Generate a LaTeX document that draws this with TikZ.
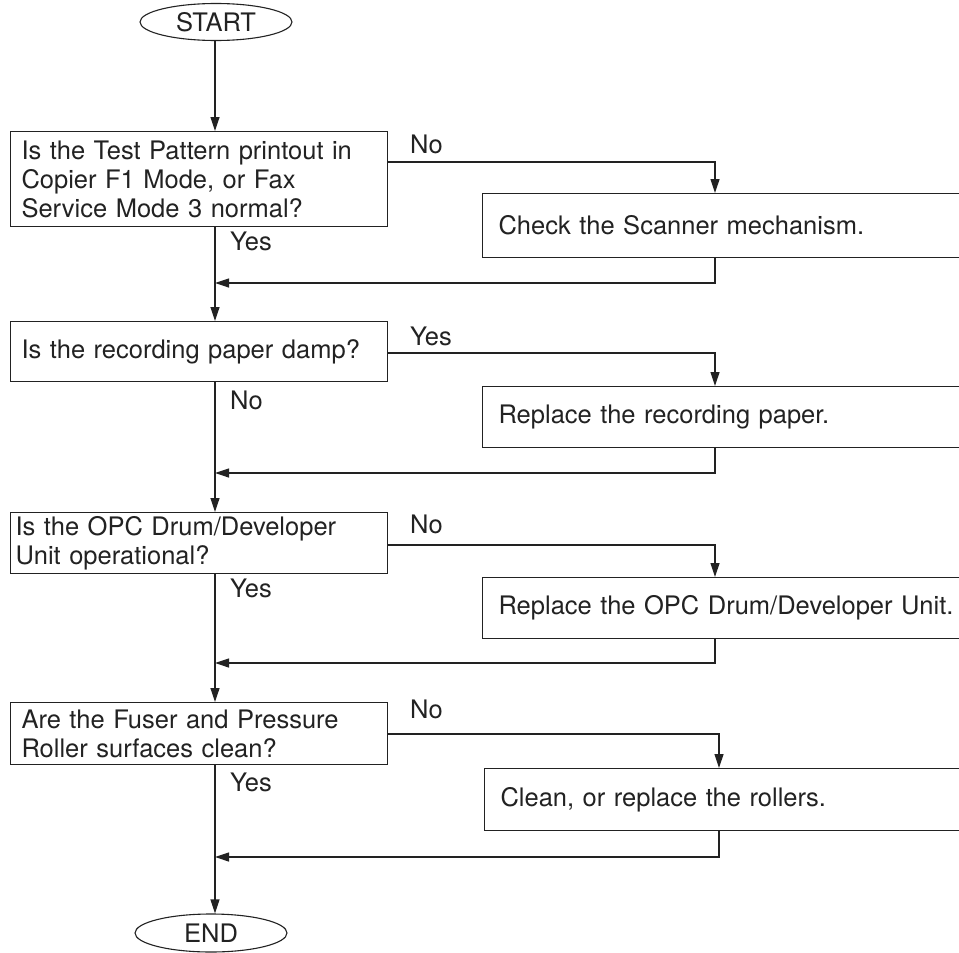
\documentclass[tikz,border=0pt]{standalone}
\usepackage{fontspec}
\setmainfont{TeX Gyre Heros}
\usetikzlibrary{arrows.meta,shapes.geometric}
\definecolor{ink}{HTML}{222222}
\begin{document}
\begin{tikzpicture}[x=1pt,y=-1pt,
  every node/.style={text=ink,font=\fontsize{25.5}{29}\selectfont},
  line/.style={draw=ink,line width=1.2pt},
  arr/.style={line,-{Triangle[length=14pt,width=9pt]}},
  term/.style={ellipse,draw=ink,line width=1.1pt,inner sep=0pt,minimum width=152pt,minimum height=37pt},
  qbox/.style={draw=ink,line width=1.1pt,rectangle,anchor=north west,minimum width=377pt,inner xsep=11pt,inner ysep=0pt,align=left,text width=355pt},
  abox/.style={draw=ink,line width=1.1pt,rectangle,anchor=north west,minimum width=520pt,inner xsep=16pt,inner ysep=0pt,align=left,text width=488pt},
  lbl/.style={anchor=base west,inner sep=0pt}]
\useasboundingbox (0,0) rectangle (959,953);
\fill[white] (0,0) rectangle (959,953);
% main column and exits
\coordinate (m) at (215,0);
\coordinate (ex1) at (715,0);
\coordinate (ex2) at (715,0);
\coordinate (ex3) at (715,0);
\coordinate (ex4) at (719,0);
\coordinate (br1) at (0,162);
\coordinate (br2) at (0,353);
\coordinate (br3) at (0,545);
\coordinate (br4) at (0,734);
\coordinate (rt1) at (0,283);
\coordinate (rt2) at (0,473);
\coordinate (rt3) at (0,663);
\coordinate (rt4) at (0,857);
% nodes
\node[term] (start) at (216,22) {START};
\node[qbox,minimum height=95pt] (b1) at (10,131) {Is the Test Pattern printout in\\Copier F1 Mode, or Fax\\Service Mode 3 normal?};
\node[qbox,minimum height=60pt] (b2) at (10,321) {Is the recording paper damp?};
\node[qbox,minimum height=61pt,inner xsep=5pt,text width=367pt] (b3) at (10,512) {Is the OPC Drum/Developer\\Unit operational?};
\node[qbox,minimum height=62pt] (b4) at (10,702) {Are the Fuser and Pressure\\Roller surfaces clean?};
\node[abox,minimum height=64pt] (a1) at (482,193) {Check the Scanner mechanism.};
\node[abox,minimum height=61pt] (a2) at (482,386) {Replace the recording paper.};
\node[abox,minimum height=61pt] (a3) at (482,577) {Replace the OPC Drum/Developer Unit.};
\node[abox,minimum height=62pt] (a4) at (484,768) {Clean, or replace the rollers.};
\node[term,minimum height=38pt] (end) at (211,933) {END};
% labels
\node[lbl] (l1r) at (410,153) {No};
\node[lbl] (l1d) at (230,250) {Yes};
\node[lbl] (l2r) at (410,345) {Yes};
\node[lbl] (l2d) at (230,409) {No};
\node[lbl] (l3r) at (410,533) {No};
\node[lbl] (l3d) at (230,597) {Yes};
\node[lbl] (l4r) at (410,718) {No};
\node[lbl] (l4d) at (230,791) {Yes};
% main column
\draw[arr] (m |- start.south) -- (m |- b1.north);
\draw[arr] (m |- b1.south) -- (m |- b2.north);
\draw[arr] (m |- b2.south) -- (m |- b3.north);
\draw[arr] (m |- b3.south) -- (m |- b4.north);
\draw[arr] (m |- b4.south) -- (m |- end.north);
% branches
\draw[arr] (b1.east |- br1) -| (ex1 |- a1.north);
\draw[arr] (ex1 |- a1.south) |- (m |- rt1);
\draw[arr] (b2.east |- br2) -| (ex2 |- a2.north);
\draw[arr] (ex2 |- a2.south) |- (m |- rt2);
\draw[arr] (b3.east |- br3) -| (ex3 |- a3.north);
\draw[arr] (ex3 |- a3.south) |- (m |- rt3);
\draw[arr] (b4.east |- br4) -| (ex4 |- a4.north);
\draw[arr] (ex4 |- a4.south) |- (m |- rt4);
\end{tikzpicture}
\end{document}
